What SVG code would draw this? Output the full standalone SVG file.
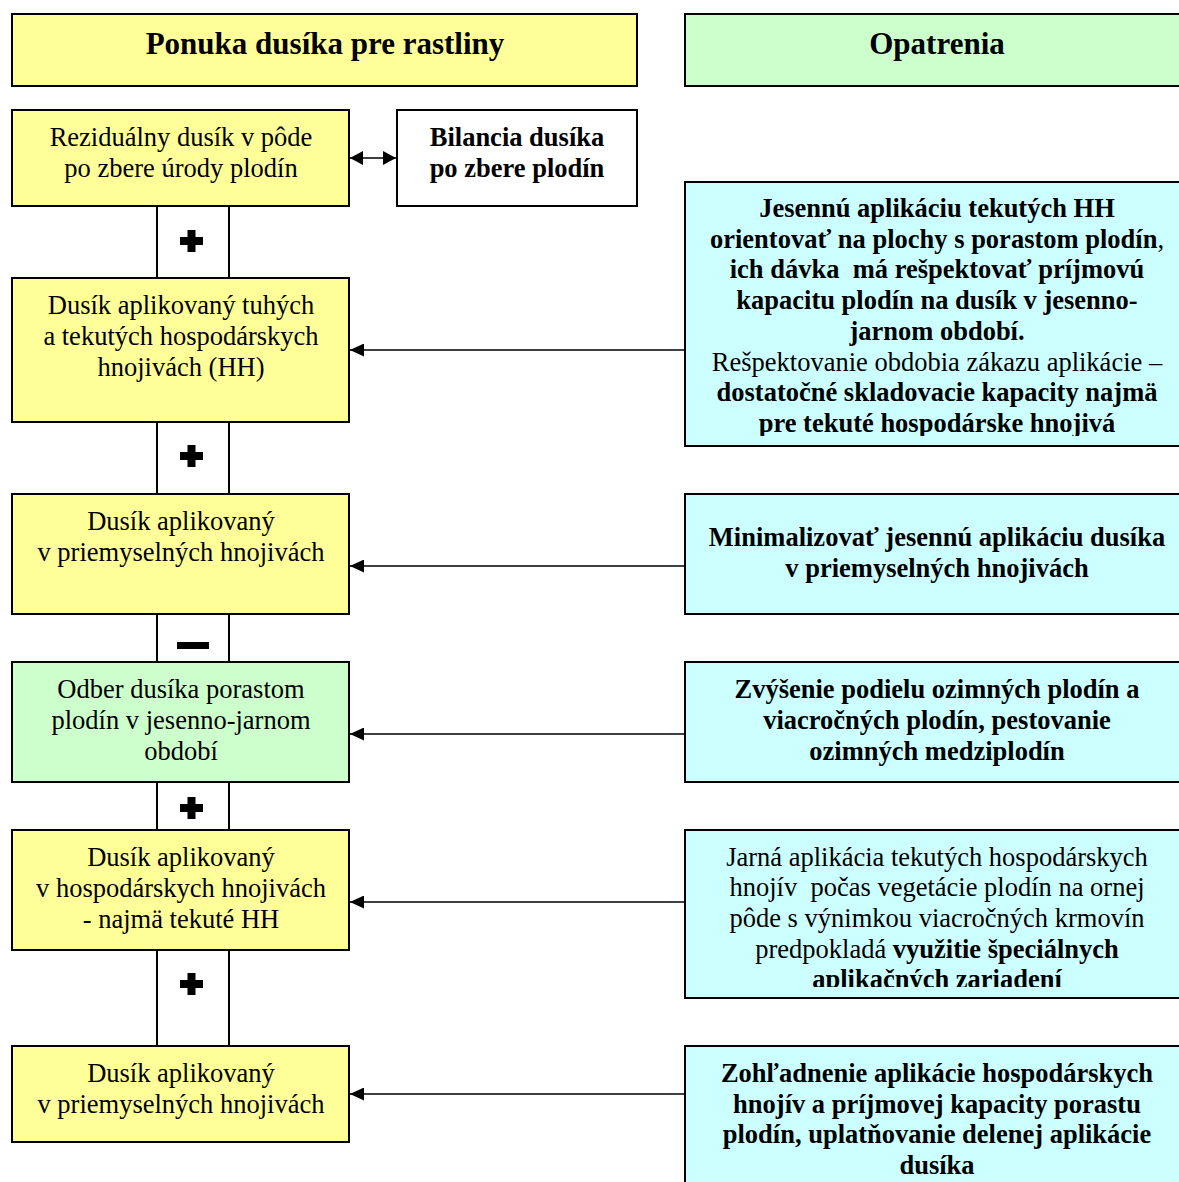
<svg xmlns="http://www.w3.org/2000/svg" width="1179" height="1182" viewBox="0 0 1179 1182">
<style>
.box{stroke:#000;stroke-width:2}
.y{fill:#FFFF99}.g{fill:#CCFFCC}.c{fill:#CCFFFF}.w{fill:#fff}
text{font-family:"Liberation Serif","Times New Roman",serif;font-size:26.5px;fill:#000;text-anchor:middle}
.h{font-size:31px;font-weight:bold}
.b{font-weight:bold}
.n{font-weight:normal}
.ln{stroke:#000;stroke-width:1.6;fill:none}
</style>
<defs>
<marker id="ah" viewBox="0 0 14 13" refX="14" refY="6.5" markerWidth="14" markerHeight="13" markerUnits="userSpaceOnUse" orient="auto-start-reverse">
<path d="M0,0 L14,6.5 L0,13 z" fill="#000"/>
</marker>
<marker id="ah2" viewBox="0 0 13 14" refX="13" refY="7" markerWidth="13" markerHeight="14" markerUnits="userSpaceOnUse" orient="auto-start-reverse">
<path d="M0,0 L13,7 L0,14 z" fill="#000"/>
</marker>
<path id="plus" d="M-4,-11 h8 v7 h7.5 v8 h-7.5 v7 h-8 v-7 h-7.5 v-8 h7.5 z" fill="#000"/>
<clipPath id="clipR1"><rect x="684" y="182" width="510" height="254"/></clipPath>
<clipPath id="clipR4"><rect x="684" y="830" width="510" height="157"/></clipPath>
</defs>

<g id="connectors">
<rect class="box w" x="157" y="206" width="72" height="72"/>
<rect class="box w" x="157" y="422" width="72" height="72"/>
<rect class="box w" x="157" y="614" width="72" height="48"/>
<rect class="box w" x="157" y="782" width="72" height="48"/>
<rect class="box w" x="157" y="950" width="72" height="96"/>
<use href="#plus" x="191.5" y="241"/>
<use href="#plus" x="191.5" y="456"/>
<rect x="177" y="642" width="32" height="7" fill="#000"/>
<use href="#plus" x="191.5" y="808"/>
<use href="#plus" x="191.5" y="984"/>
<line class="ln" x1="350" y1="158" x2="396" y2="158" marker-start="url(#ah2)" marker-end="url(#ah2)"/>
<line class="ln" x1="685" y1="350" x2="350" y2="350" marker-end="url(#ah)"/>
<line class="ln" x1="685" y1="566" x2="350" y2="566" marker-end="url(#ah)"/>
<line class="ln" x1="685" y1="734" x2="350" y2="734" marker-end="url(#ah)"/>
<line class="ln" x1="685" y1="902" x2="350" y2="902" marker-end="url(#ah)"/>
<line class="ln" x1="685" y1="1094" x2="350" y2="1094" marker-end="url(#ah)"/>
</g>

<g id="header-left">
<rect class="box y" x="12" y="14" width="625" height="72"/>
<text class="h" x="325" y="54">Ponuka dusíka pre rastliny</text>
</g>
<g id="header-right">
<rect class="box g" x="685" y="14" width="510" height="72"/>
<text class="h" x="937" y="54">Opatrenia</text>
</g>

<g id="n1">
<rect class="box y" x="12" y="110" width="337" height="96"/>
<text x="181" y="145.5">Reziduálny dusík v pôde</text>
<text x="181" y="176.5">po zbere úrody plodín</text>
</g>
<g id="n-bilancia">
<rect class="box w" x="397" y="110" width="240" height="96"/>
<text class="b" x="517" y="145.5">Bilancia dusíka</text>
<text class="b" x="517" y="176.5">po zbere plodín</text>
</g>
<g id="n2">
<rect class="box y" x="12" y="278" width="337" height="144"/>
<text x="181" y="313.5">Dusík aplikovaný tuhých</text>
<text x="181" y="344.5">a tekutých hospodárskych</text>
<text x="181" y="375.5">hnojivách (HH)</text>
</g>
<g id="n3">
<rect class="box y" x="12" y="494" width="337" height="120"/>
<text x="181" y="529.5">Dusík aplikovaný</text>
<text x="181" y="560.5">v priemyselných hnojivách</text>
</g>
<g id="n4">
<rect class="box g" x="12" y="662" width="337" height="120"/>
<text x="181" y="697.5">Odber dusíka porastom</text>
<text x="181" y="728.5">plodín v jesenno-jarnom</text>
<text x="181" y="759.5">období</text>
</g>
<g id="n5">
<rect class="box y" x="12" y="830" width="337" height="120"/>
<text x="181" y="865.5">Dusík aplikovaný</text>
<text x="181" y="896.5">v hospodárskych hnojivách</text>
<text x="181" y="927.5">- najmä tekuté HH</text>
</g>
<g id="n6">
<rect class="box y" x="12" y="1046" width="337" height="96"/>
<text x="181" y="1081.5">Dusík aplikovaný</text>
<text x="181" y="1112.5">v priemyselných hnojivách</text>
</g>

<g id="r1">
<rect class="box c" x="685" y="182" width="510" height="264"/>
<g clip-path="url(#clipR1)">
<text class="b" x="937" y="217">Jesennú aplikáciu tekutých HH</text>
<text class="b" x="937" y="247.7">orientovať na plochy s porastom plodín<tspan class="n">,</tspan></text>
<text class="b" x="937" y="278.4" xml:space="preserve">ich dávka  má rešpektovať príjmovú</text>
<text class="b" x="937" y="309.1">kapacitu plodín na dusík v jesenno-</text>
<text class="b" x="937" y="339.8">jarnom období.</text>
<text x="937" y="370.5">Rešpektovanie obdobia zákazu aplikácie –</text>
<text class="b" x="937" y="401.2">dostatočné skladovacie kapacity najmä</text>
<text class="b" x="937" y="431.9">pre tekuté hospodárske hnojivá</text>
</g>
</g>
<g id="r2">
<rect class="box c" x="685" y="494" width="510" height="120"/>
<text class="b" x="937" y="545.5">Minimalizovať jesennú aplikáciu dusíka</text>
<text class="b" x="937" y="576.5">v priemyselných hnojivách</text>
</g>
<g id="r3">
<rect class="box c" x="685" y="662" width="510" height="120"/>
<text class="b" x="937" y="697.5">Zvýšenie podielu ozimných plodín a</text>
<text class="b" x="937" y="728.5">viacročných plodín, pestovanie</text>
<text class="b" x="937" y="759.5">ozimných medziplodín</text>
</g>
<g id="r4">
<rect class="box c" x="685" y="830" width="510" height="168"/>
<g clip-path="url(#clipR4)">
<text x="937" y="865.5">Jarná aplikácia tekutých hospodárskych</text>
<text x="937" y="896.2" xml:space="preserve">hnojív  počas vegetácie plodín na ornej</text>
<text x="937" y="926.9">pôde s výnimkou viacročných krmovín</text>
<text x="937" y="957.6">predpokladá <tspan class="b">využitie špeciálnych</tspan></text>
<text class="b" x="937" y="988.3">aplikačných zariadení</text>
</g>
</g>
<g id="r5">
<rect class="box c" x="685" y="1046" width="510" height="150"/>
<text class="b" x="937" y="1082">Zohľadnenie aplikácie hospodárskych</text>
<text class="b" x="937" y="1112.7">hnojív a príjmovej kapacity porastu</text>
<text class="b" x="937" y="1143.4">plodín, uplatňovanie delenej aplikácie</text>
<text class="b" x="937" y="1174.1">dusíka</text>
</g>
</svg>
